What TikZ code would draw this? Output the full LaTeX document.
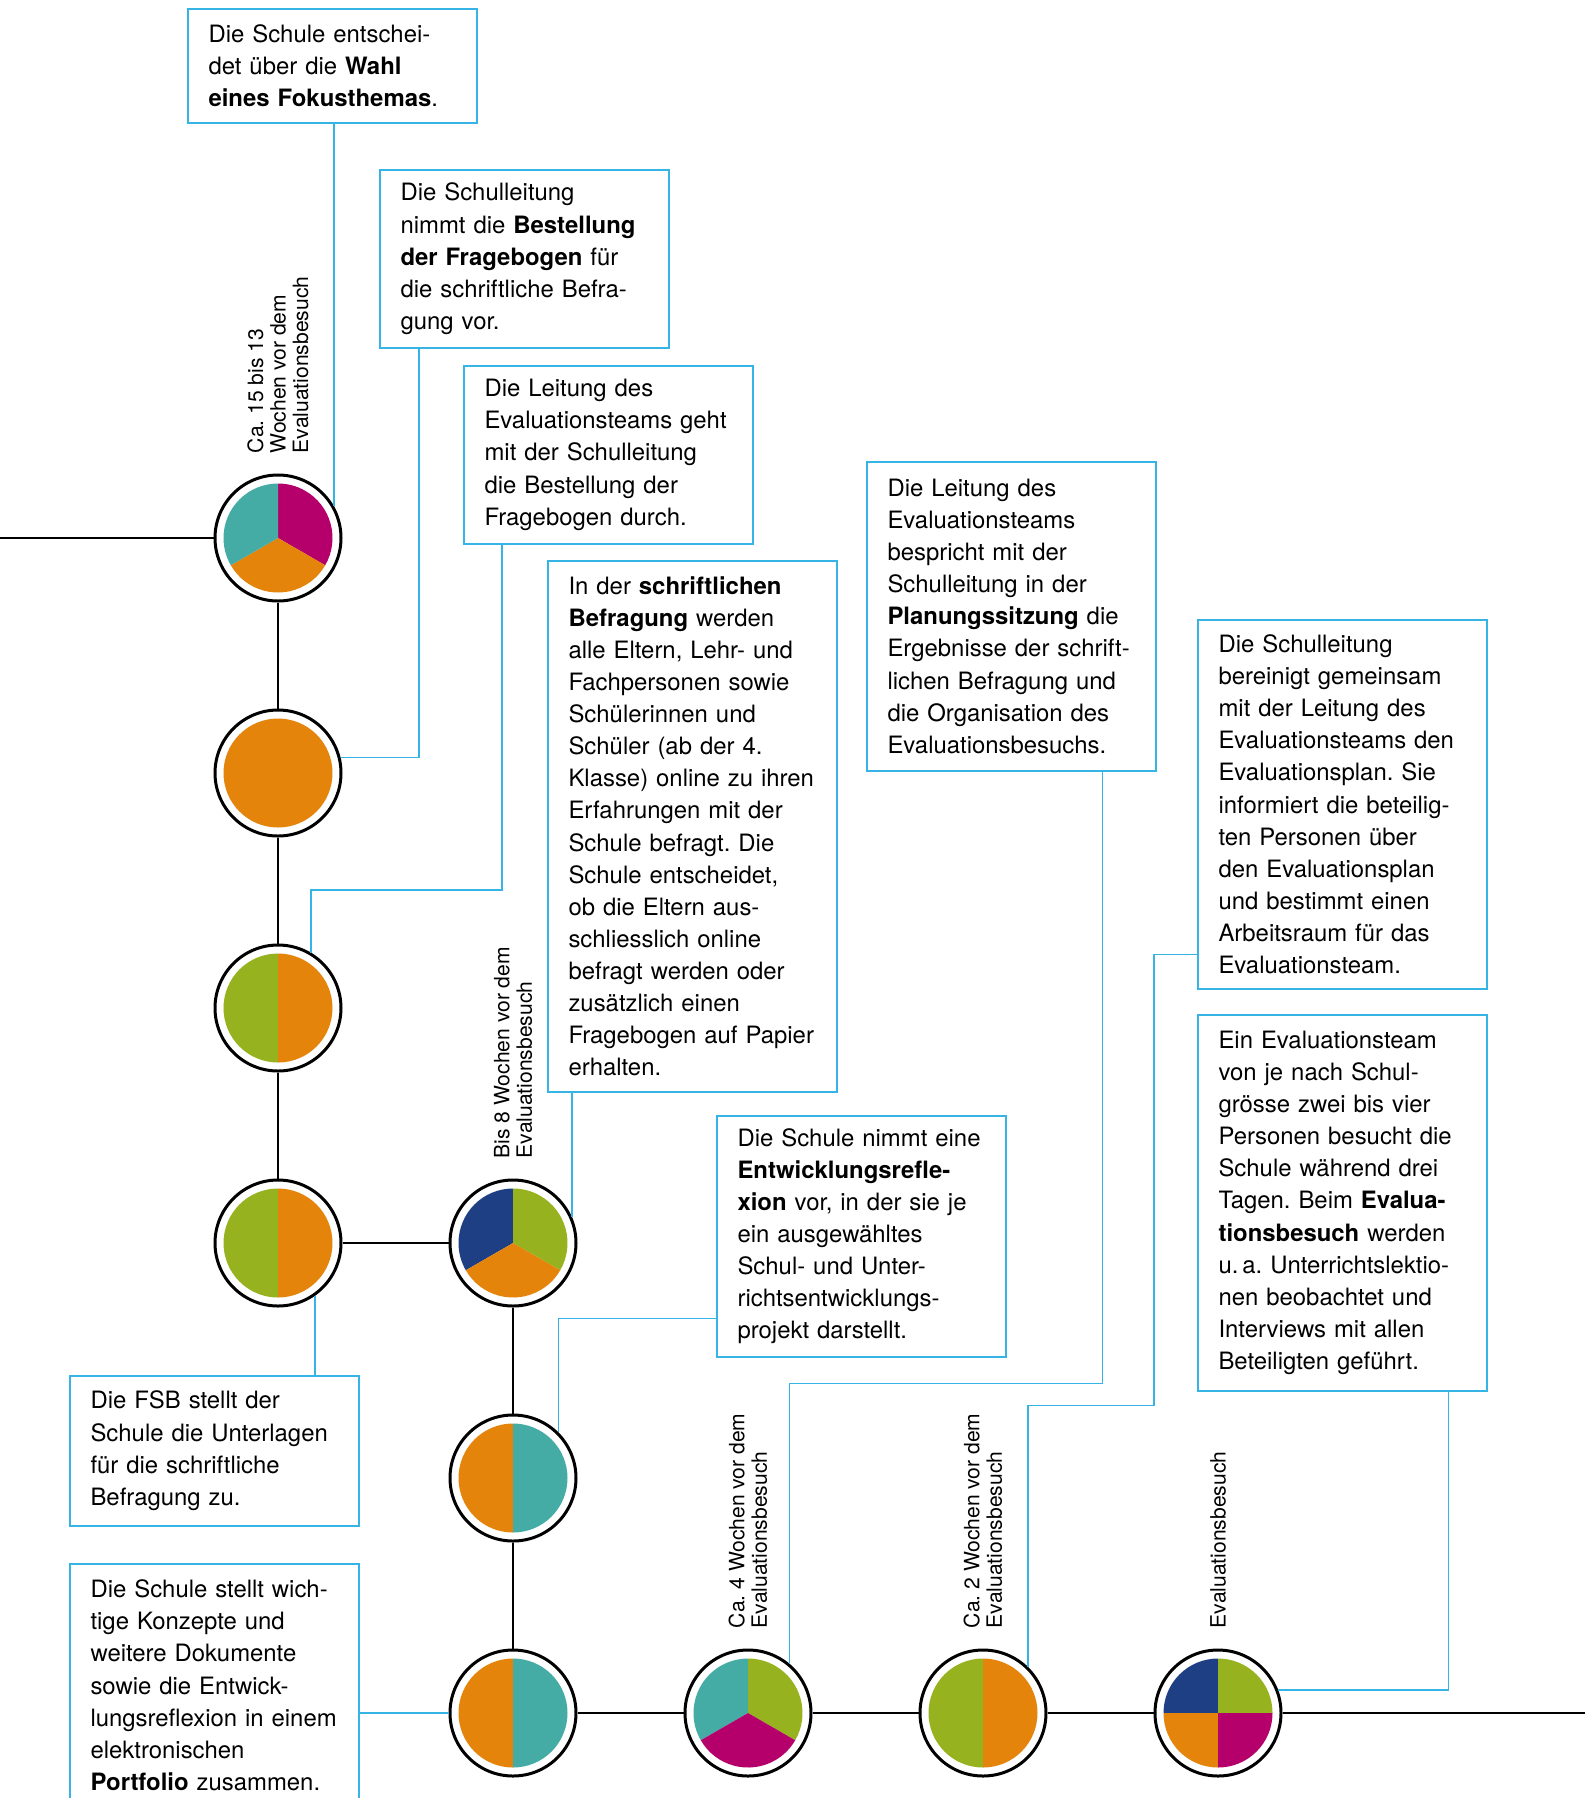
\documentclass[tikz,border=0pt]{standalone}
\usepackage{fontspec}
\setmainfont{TeX Gyre Heros}
\frenchspacing
\definecolor{evteal}{HTML}{45ABA5}
\definecolor{evmagenta}{HTML}{B5006B}
\definecolor{evorange}{HTML}{E5840A}
\definecolor{evgreen}{HTML}{96B31F}
\definecolor{evnavy}{HTML}{1E3F84}
\definecolor{evblue}{HTML}{36B4E6}
\newcommand{\piepart}[4]{\fill[#2] (#1.center) -- ++(#3:1.09) arc[start angle=#3, end angle=#4, radius=1.09] -- cycle;}

\begin{document}
\begin{tikzpicture}[
    infobox/.style={rectangle, draw=evblue, line width=0.9pt, anchor=north west, text width=4.95cm, inner xsep=0.415cm, inner ysep=0pt, align=left, font=\fontsize{13.6pt}{18.27pt}\selectfont},
    stage/.style={circle, draw=black, fill=white, line width=0.06cm, minimum size=2.52cm, inner sep=0pt},
    timelabel/.style={rotate=90, anchor=west, align=left, inner sep=0pt, font=\fontsize{12pt}{12.8pt}\selectfont},
    timeline/.style={draw=black, line width=0.04cm},
    link/.style={draw=evblue, line width=0.9pt}
]
    \useasboundingbox (0,0) rectangle (31.7,-35.96);
    \clip (0,0) rectangle (31.7,-35.96);

    \node (c1) [stage] at (5.56, -10.76) {};
    \node (c2) [stage] at (5.56, -15.46) {};
    \node (c3) [stage] at (5.56, -20.16) {};
    \node (c4) [stage] at (5.56, -24.86) {};
    \node (c5) [stage] at (10.26, -24.86) {};
    \node (c6) [stage] at (10.26, -29.56) {};
    \node (c7) [stage] at (10.26, -34.26) {};
    \node (c8) [stage] at (14.96, -34.26) {};
    \node (c9) [stage] at (19.66, -34.26) {};
    \node (c10) [stage] at (24.36, -34.26) {};
    \coordinate (lstart) at (0, -10.76);
    \coordinate (rend) at (31.7, -34.26);
    \foreach \a/\b in {lstart/c1, c1/c2, c2/c3, c3/c4, c4/c5, c5/c6, c6/c7, c7/c8, c8/c9, c9/c10, c10/rend}
        \draw [timeline] (\a) -- (\b);

    \piepart{c1}{evmagenta}{-30}{90}
    \piepart{c1}{evorange}{-150}{-30}
    \piepart{c1}{evteal}{90}{210}
    \fill [evorange] (c2.center) circle [radius=1.09];
    \piepart{c3}{evgreen}{90}{270}
    \piepart{c3}{evorange}{-90}{90}
    \piepart{c4}{evgreen}{90}{270}
    \piepart{c4}{evorange}{-90}{90}
    \piepart{c5}{evnavy}{90}{210}
    \piepart{c5}{evgreen}{-30}{90}
    \piepart{c5}{evorange}{210}{330}
    \piepart{c6}{evorange}{90}{270}
    \piepart{c6}{evteal}{-90}{90}
    \piepart{c7}{evorange}{90}{270}
    \piepart{c7}{evteal}{-90}{90}
    \piepart{c8}{evteal}{90}{210}
    \piepart{c8}{evgreen}{-30}{90}
    \piepart{c8}{evmagenta}{210}{330}
    \piepart{c9}{evgreen}{90}{270}
    \piepart{c9}{evorange}{-90}{90}
    \piepart{c10}{evnavy}{90}{180}
    \piepart{c10}{evgreen}{0}{90}
    \piepart{c10}{evorange}{180}{270}
    \piepart{c10}{evmagenta}{270}{360}

    \node (t1) [timelabel] at ([yshift=0.4cm]c1.north) {Ca. 15 bis 13\\Wochen vor dem\\Evaluationsbesuch};
    \node (t2) [timelabel] at ([yshift=0.4cm]c5.north) {Bis 8 Wochen vor dem\\Evaluationsbesuch};
    \node (t3) [timelabel] at ([yshift=0.4cm]c8.north) {Ca. 4 Wochen vor dem\\Evaluationsbesuch};
    \node (t4) [timelabel] at ([yshift=0.4cm]c9.north) {Ca. 2 Wochen vor dem\\Evaluationsbesuch};
    \node (t5) [timelabel] at ([yshift=0.4cm]c10.north) {Evaluationsbesuch};

    \node (b1) [infobox, minimum height=2.28cm] at (3.74, -0.16) {Die Schule entschei-\\det über die \textbf{Wahl}\\\textbf{eines Fokusthemas}.};
    \node (b2) [infobox, minimum height=3.56cm] at (7.58, -3.38) {Die Schulleitung\\nimmt die \textbf{Bestellung}\\\textbf{der Fragebogen} für\\die schriftliche Befra-\\gung vor.};
    \node (b3) [infobox, minimum height=3.56cm] at (9.26, -7.30) {Die Leitung des\\Evaluationsteams geht\\mit der Schulleitung\\die Bestellung der\\Fragebogen durch.};
    \node (b4) [infobox, minimum height=10.62cm] at (10.94, -11.20) {In der \textbf{schriftlichen}\\\textbf{Befragung} werden\\alle Eltern, Lehr- und\\Fachpersonen sowie\\Schülerinnen und\\Schüler (ab der 4.\\Klasse) online zu ihren\\Erfahrungen mit der\\Schule befragt. Die\\Schule entscheidet,\\ob die Eltern aus-\\schliesslich online\\befragt werden oder\\zusätzlich einen\\Fragebogen auf Papier\\erhalten.};
    \node (b5) [infobox, minimum height=4.82cm] at (14.32, -22.30) {Die Schule nimmt eine\\\textbf{Entwicklungsrefle-}\\\textbf{xion} vor, in der sie je\\ein ausgewähltes\\Schul- und Unter-\\richtsentwicklungs-\\projekt darstellt.};
    \node (b6) [infobox, minimum height=6.18cm] at (17.32, -9.22) {Die Leitung des\\Evaluationsteams\\bespricht mit der\\Schulleitung in der\\\textbf{Planungssitzung} die\\Ergebnisse der schrift-\\lichen Befragung und\\die Organisation des\\Evaluationsbesuchs.};
    \node (b7) [infobox, minimum height=7.38cm] at (23.94, -12.38) {Die Schulleitung\\bereinigt gemeinsam\\mit der Leitung des\\Evaluationsteams den\\Evaluationsplan. Sie\\informiert die beteilig-\\ten Personen über\\den Evaluationsplan\\und bestimmt einen\\Arbeitsraum für das\\Evaluationsteam.};
    \node (b8) [infobox, minimum height=7.52cm] at (23.94, -20.28) {Ein Evaluationsteam\\von je nach Schul-\\grösse zwei bis vier\\Personen besucht die\\Schule während drei\\Tagen. Beim \textbf{Evalua-}\\\textbf{tionsbesuch} werden\\u.\,a. Unterrichtslektio-\\nen beobachtet und\\Interviews mit allen\\Beteiligten geführt.};
    \node (b9) [infobox, minimum height=3.00cm] at (1.38, -27.50) {Die FSB stellt der\\Schule die Unterlagen\\für die schriftliche\\Befragung zu.};
    \node (b10) [infobox, minimum height=4.86cm] at (1.38, -31.26) {Die Schule stellt wich-\\tige Konzepte und\\weitere Dokumente\\sowie die Entwick-\\lungsreflexion in einem\\elektronischen\\\textbf{Portfolio} zusammen.};

    \draw [link] (c1.30) -- (c1.30 |- b1.south);
    \draw [link] (c2.14) -| ([xshift=0.8cm]b2.south west);
    \draw [link] (c3.59) -- ++(0, 1.26) -| ([xshift=0.78cm]b3.south west);
    \draw [link] (c5.24) -- (c5.24 |- b4.south);
    \draw [link] (c6.45) |- ([yshift=0.78cm]b5.south west);
    \draw [link] (c8.50) -- ++(0, 5.6) -| ([xshift=-1.08cm]b6.south east);
    \draw [link] (c9.46) -- ++(0, 5.22) -- ++(2.52, 0) |- ([yshift=0.7cm]b7.south west);
    \draw [link] (c10.21) -| ([xshift=-0.78cm]b8.south east);
    \draw [link] (c4.-55) -- (c4.-55 |- b9.north);
    \draw [link] (c7.west -| b10.east) -- (c7.west);
\end{tikzpicture}
\end{document}
